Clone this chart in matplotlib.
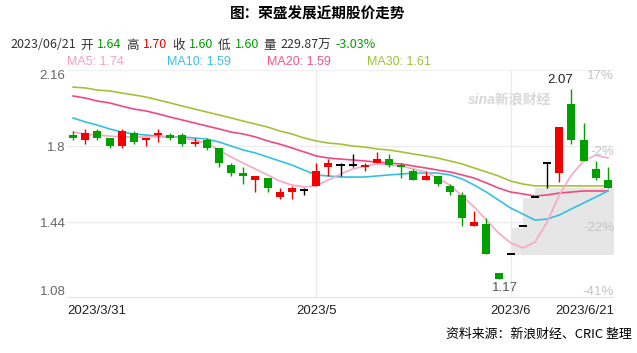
import numpy as np
import matplotlib
matplotlib.use('Agg')
import matplotlib.pyplot as plt
from matplotlib import transforms

plt.rcParams['font.family'] = ['Liberation Sans', 'Noto Sans CJK SC', 'DejaVu Sans']

# daily candles, 2023/3/31 .. 2023/6/21
opens = [1.85, 1.83, 1.87, 1.84, 1.80, 1.86, 1.83, 1.85, 1.85, 1.85, 1.81, 1.83, 1.79, 1.71, 1.67,
         1.64, 1.65, 1.56, 1.58, 1.59, 1.61, 1.70, 1.71, 1.71, 1.70, 1.72, 1.74, 1.71, 1.68, 1.64,
         1.66, 1.61, 1.57, 1.42, 1.43, 1.20, 1.29, 1.42, 1.56, 1.72, 1.67, 2.00, 1.83, 1.69, 1.64]
highs = [1.87, 1.88, 1.88, 1.84, 1.88, 1.87, 1.84, 1.88, 1.86, 1.86, 1.84, 1.84, 1.79, 1.72, 1.70,
         1.66, 1.65, 1.60, 1.61, 1.60, 1.72, 1.74, 1.72, 1.76, 1.72, 1.77, 1.76, 1.72, 1.69, 1.68,
         1.66, 1.62, 1.58, 1.49, 1.46, 1.20, 1.29, 1.42, 1.56, 1.72, 1.89, 2.07, 1.91, 1.73, 1.70]
lows = [1.83, 1.81, 1.83, 1.79, 1.79, 1.81, 1.80, 1.82, 1.83, 1.80, 1.80, 1.78, 1.70, 1.66, 1.62,
        1.58, 1.58, 1.55, 1.55, 1.57, 1.61, 1.66, 1.66, 1.70, 1.68, 1.72, 1.70, 1.65, 1.64, 1.64,
        1.61, 1.57, 1.42, 1.42, 1.29, 1.17, 1.29, 1.42, 1.56, 1.60, 1.63, 1.81, 1.73, 1.64, 1.60]
closes = [1.84, 1.86, 1.84, 1.80, 1.87, 1.82, 1.84, 1.86, 1.84, 1.81, 1.82, 1.79, 1.72, 1.67, 1.66,
          1.66, 1.60, 1.58, 1.60, 1.59, 1.68, 1.72, 1.71, 1.71, 1.71, 1.74, 1.71, 1.70, 1.64, 1.66,
          1.62, 1.58, 1.46, 1.44, 1.29, 1.17, 1.29, 1.42, 1.56, 1.72, 1.89, 1.83, 1.73, 1.65, 1.60]

# moving averages
ma5 = [1.866, 1.857, 1.852, 1.847, 1.843, 1.843, 1.843, 1.843, 1.843, 1.838, 1.828, 1.814, 1.781,
       1.748, 1.719, 1.691, 1.663, 1.634, 1.615, 1.606, 1.611, 1.639, 1.667, 1.691, 1.705, 1.715,
       1.710, 1.705, 1.691, 1.677, 1.648, 1.615, 1.563, 1.511, 1.449, 1.388, 1.341, 1.317, 1.345,
       1.440, 1.568, 1.663, 1.729, 1.757, 1.743]
ma10 = [1.933, 1.914, 1.899, 1.881, 1.866, 1.857, 1.852, 1.847, 1.843, 1.843, 1.838, 1.833, 1.819,
        1.800, 1.781, 1.767, 1.748, 1.729, 1.710, 1.686, 1.663, 1.658, 1.653, 1.653, 1.653, 1.658,
        1.663, 1.667, 1.672, 1.672, 1.672, 1.663, 1.644, 1.615, 1.582, 1.544, 1.506, 1.478, 1.449,
        1.454, 1.473, 1.502, 1.530, 1.558, 1.587]
ma20 = [2.037, 2.027, 2.013, 2.004, 1.989, 1.975, 1.966, 1.952, 1.937, 1.923, 1.909, 1.895, 1.881,
        1.866, 1.857, 1.843, 1.824, 1.809, 1.791, 1.772, 1.753, 1.743, 1.738, 1.734, 1.729, 1.724,
        1.719, 1.715, 1.705, 1.696, 1.686, 1.677, 1.663, 1.648, 1.625, 1.601, 1.582, 1.573, 1.563,
        1.568, 1.577, 1.582, 1.587, 1.587, 1.587]
ma30 = [2.079, 2.075, 2.065, 2.061, 2.051, 2.042, 2.032, 2.018, 2.004, 1.989, 1.975, 1.961, 1.947,
        1.933, 1.918, 1.904, 1.890, 1.871, 1.857, 1.838, 1.824, 1.814, 1.809, 1.800, 1.795, 1.786,
        1.781, 1.772, 1.762, 1.753, 1.743, 1.729, 1.715, 1.696, 1.677, 1.658, 1.634, 1.620, 1.611,
        1.611, 1.611, 1.611, 1.611, 1.611, 1.611]

# grey band at the right (steps start at these candle indices)
band_start = [36, 37, 38]
band_top = [1.412, 1.554, 1.601]
band_bottom = 1.284

xtick_pos = [0, 20, 36, 44]
xtick_labels = ['2023/3/31', '2023/5', '2023/6', '2023/6/21']
ytick_vals = [2.16, 1.8, 1.44, 1.08]
ytick_labels = ['2.16', '1.8', '1.44', '1.08']
pct_labels = ['17%', '-2%', '-22%', '-41%']

RED = '#f20000'
GREEN = '#00a000'
W, H = 637, 353

fig = plt.figure(figsize=(W / 100, H / 100), dpi=100)
ax = fig.add_axes([67 / W, 55 / H, 547 / W, 228 / H])
n = len(closes)
x = np.arange(n)

# grey band
bx = band_start + [n - 0.5]
bt = band_top + [band_top[-1]]
ax.fill_between(bx, band_bottom, bt, step='post', color='#e6e6e6', lw=0, zorder=1)

# grid
for v in [1.8, 1.44]:
    ax.axhline(v, color='#ececec', lw=1, zorder=0)
ax.axhline(2.16, color='#ececec', lw=1.2, zorder=0)
ax.axhline(1.08, color='#e4e4e4', lw=1.5, zorder=0)
for v in [20, 36]:
    ax.axvline(v, color='#ececec', lw=1, zorder=0)

# moving averages
ax.plot(x, ma30, color='#a3c23a', lw=1.2, zorder=2)
ax.plot(x, ma20, color='#ee4a82', lw=1.2, zorder=2)
ax.plot(x, ma10, color='#35c0e0', lw=1.2, zorder=2)
ax.plot(x, ma5, color='#f9a8c4', lw=1.2, zorder=2)

# candles
bw = 0.66
for i in range(n):
    o, h, l, c = opens[i], highs[i], lows[i], closes[i]
    if c > o:
        col = RED
    elif c < o:
        col = GREEN
    else:
        col = 'black'
    ax.vlines(i, l, h, color=col, lw=1, zorder=3)
    if c == o:
        ax.hlines(o, i - bw / 2, i + bw / 2, color=col, lw=1.4, zorder=3)
    else:
        ax.bar(i, abs(c - o), bottom=min(o, c), width=bw, color=col, lw=0, zorder=3)

ax.set_xlim(-0.5, n - 0.5)
ax.set_ylim(1.08, 2.16)
for s in ax.spines.values():
    s.set_visible(False)

ax.set_xticks(xtick_pos, xtick_labels)
ax.tick_params(axis='x', length=0, pad=5, labelsize=9.5, labelcolor='#222222')
xl = ax.get_xticklabels()
xl[0].set_ha('left')
xl[0].set_transform(xl[0].get_transform() + transforms.ScaledTranslation(-6 / 100, 0, fig.dpi_scale_trans))
xl[-1].set_ha('right')
xl[-1].set_transform(xl[-1].get_transform() + transforms.ScaledTranslation(6 / 100, 0, fig.dpi_scale_trans))

ax.set_yticks(ytick_vals, ytick_labels)
ax.tick_params(axis='y', length=0, pad=1, labelsize=9.5, labelcolor='#666666')
yl = ax.get_yticklabels()
yl[0].set_va('top')
yl[-1].set_va('bottom')

# percent labels on the right, inside the plot
pct_va = ['top', 'top', 'top', 'bottom']
for v, t, va in zip(ytick_vals, pct_labels, pct_va):
    ax.text(n - 0.5, v, t, ha='right', va=va, fontsize=9.5, color='#c4c4c4', zorder=4)

# high / low annotations
imax = int(np.argmax(highs))
imin = int(np.argmin(lows))
ax.text(imax + 0.1, highs[imax] + 0.015, f'{highs[imax]:.2f}', ha='right', va='bottom',
        fontsize=9.5, color='#222222')
ax.text(imin + 0.5, lows[imin] - 0.015, f'{lows[imin]:.2f}', ha='center', va='top',
        fontsize=9.5, color='#555555')

# watermark
fig.text(510 / W, 1 - 100 / H, 'sina新浪财经', ha='center', va='center', fontsize=10,
         color='#d8d8d8', style='italic', weight='bold')

# title
fig.text(318 / W, 1 - 14 / H, '图：荣盛发展近期股价走势', ha='center', va='center',
         fontsize=10.5, weight='bold', family=['Noto Sans CJK SC', 'DejaVu Sans'], color='black')

# quote line
fig.canvas.draw()
r = fig.canvas.get_renderer()
pieces = [('2023/06/21', '#333333'), ('开', '#333333'), (f'{opens[-1]:.2f}', GREEN),
          ('高', '#333333'), (f'{highs[-1]:.2f}', RED), ('收', '#333333'), (f'{closes[-1]:.2f}', GREEN),
          ('低', '#333333'), (f'{lows[-1]:.2f}', GREEN), ('量', '#333333'), ('229.87万', '#333333'),
          (f'{(closes[-1] / closes[-2] - 1) * 100:.2f}%', GREEN)]
px = 10
for s, col in pieces:
    t = fig.text(px / W, 1 - 45 / H, s, ha='left', va='center', fontsize=9, color=col,
                 family=['Noto Sans CJK SC', 'DejaVu Sans'])
    px += t.get_window_extent(r).width + 4.5

# MA legend line
ma_items = [('MA5', ma5[-1], '#f7a0c0'), ('MA10', ma10[-1], '#3cc0e6'),
            ('MA20', ma20[-1], '#f0568c'), ('MA30', ma30[-1], '#9cc33a')]
for k, (name, v, col) in enumerate(ma_items):
    fig.text((67 + 100 * k) / W, 1 - 62 / H, f'{name}: {v:.2f}', ha='left', va='center',
             fontsize=9, color=col)

# source
fig.text(632 / W, 1 - 334 / H, '资料来源：新浪财经、CRIC 整理', ha='right', va='center',
         fontsize=9.3, color='black', family=['Noto Sans CJK SC', 'DejaVu Sans'])

fig.savefig('out.png', dpi=100)
